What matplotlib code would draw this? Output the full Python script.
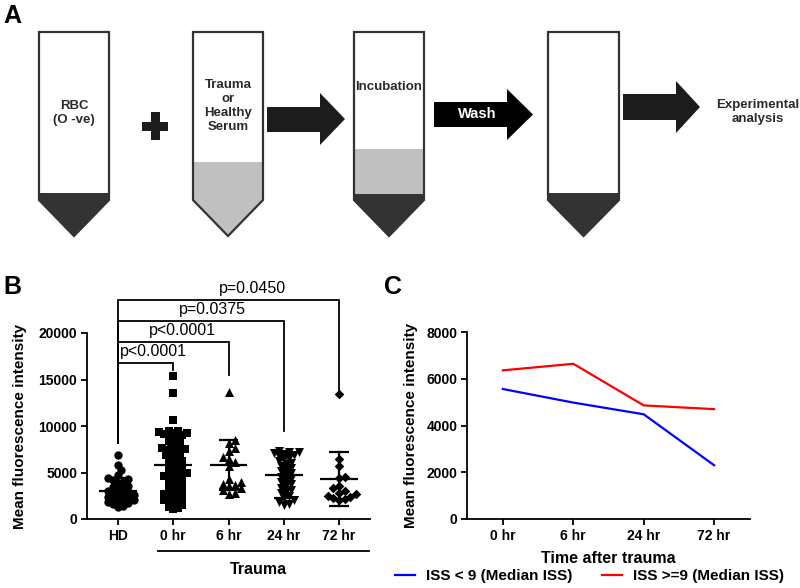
import numpy as np
import matplotlib
matplotlib.use('Agg')
import matplotlib.pyplot as plt
from matplotlib.patches import Polygon, Rectangle

plt.rcParams['font.family'] = ['Liberation Sans', 'DejaVu Sans']

# ---------------- data ----------------
b_groups = ['HD', '0 hr', '6 hr', '24 hr', '72 hr']
hd_vals = [6850, 5800, 5250, 4750, 4400, 4250, 4150, 4000, 3850, 3600, 3450, 3300,
           3150, 3050, 2950, 2800, 2700, 2600, 2500, 2400, 2300, 2200, 2100, 2000,
           1900, 1800, 1700, 1600, 1450, 1250]
h0_vals = [15400, 13600, 10600, 9480, 9410, 9350, 9300, 9260, 9120, 9050, 8970, 8880,
           8650, 8420, 8370, 8050, 7920, 7750, 7640, 7560, 7500, 7380, 7310, 7150, 6980,
           6840, 6720, 6460, 6270, 6190, 5980, 5840, 5700, 5570, 5420, 5280, 5130, 4990,
           4920, 4810, 4680, 4610, 4530, 4390, 4240, 4120, 3980, 3870, 3650, 3520, 3410,
           3290, 3140, 2980, 2870, 2690, 2580, 2470, 2330, 2210, 2090, 2010, 1880, 1720,
           1630, 1480, 1320, 1180, 1090]
h6_vals = [13700, 8500, 8200, 7600, 7300, 6700, 6400, 6100, 5700, 4300, 4000, 3800,
           3700, 3500, 3300, 3100, 2800, 2700]
h24_vals = [7300, 7250, 7200, 7100, 7000, 6900, 6750, 6600, 6400, 6200, 6050, 5900,
            5700, 5500, 5300, 5150, 4950, 4750, 4550, 4350, 4150, 3950, 3750, 3550,
            3350, 3150, 2950, 2750, 2450, 2250, 2050, 1800, 1600, 1550]
h72_vals = [13400, 6400, 5700, 4500, 4400, 3600, 3300, 3000, 2800, 2650, 2500, 2400,
            2300, 2200, 2050]
b_mean = [3050, 5850, 5800, 4700, 4300]
b_sd = [1350, 3550, 2700, 2450, 2900]

sig_labels = ['p<0.0001', 'p<0.0001', 'p=0.0375', 'p=0.0450']
sig_targets = [1, 2, 3, 4]
sig_heights = [16800, 19030, 21290, 23550]
sig_drops = [16000, 15500, 9460, 13440]
sig_start = 8170

c_times = ['0 hr', '6 hr', '24 hr', '72 hr']
iss_low = [5560, 4980, 4480, 2300]
iss_high = [6360, 6640, 4860, 4700]

# ---------------- figure ----------------
W, H = 800, 588
fig = plt.figure(figsize=(8, 5.88), dpi=100)

# ---------- Panel A (schematic) in pixel coordinates ----------
axA = fig.add_axes([0, 0, 1, 1], zorder=0)
axA.set_xlim(0, W)
axA.set_ylim(H, 0)
axA.axis('off')

DARK = '#333333'
GREY = '#c0c0c0'


def tube(x0, x1, top, body_bottom, tip, grey_from=None, dark_from=None):
    xc = (x0 + x1) / 2
    pts = [(x0, top), (x1, top), (x1, body_bottom), (xc, tip), (x0, body_bottom)]
    clip = Polygon(pts, closed=True, facecolor='white', edgecolor='none', zorder=1)
    axA.add_patch(clip)
    if grey_from is not None:
        r = Rectangle((x0 - 5, grey_from), x1 - x0 + 10, tip - grey_from + 5,
                      facecolor=GREY, edgecolor='none', zorder=2)
        axA.add_patch(r)
        r.set_clip_path(clip)
    if dark_from is not None:
        r = Rectangle((x0 - 5, dark_from), x1 - x0 + 10, tip - dark_from + 5,
                      facecolor=DARK, edgecolor='none', zorder=3)
        axA.add_patch(r)
        r.set_clip_path(clip)
    axA.add_patch(Polygon(pts, closed=True, facecolor='none', edgecolor=DARK,
                          lw=1.6, zorder=4, joinstyle='miter'))


def arrow(x0, xh, xt, yb0, yb1, yh0, yh1, color):
    ym = (yh0 + yh1) / 2
    pts = [(x0, yb0), (xh, yb0), (xh, yh0), (xt, ym), (xh, yh1), (xh, yb1), (x0, yb1)]
    axA.add_patch(Polygon(pts, closed=True, facecolor=color, edgecolor='none', zorder=3))
    return ym


tube(39, 109, 32, 200, 236, dark_from=193)
tube(193, 263, 32, 200, 236, grey_from=162)
tube(354, 424, 32, 200, 236, grey_from=149, dark_from=194)
tube(548, 619, 32, 200, 236, dark_from=193)

arrow(267, 320, 345, 107, 132, 93, 145, '#1c1c1c')
ym = arrow(434, 507, 533, 102, 127, 89, 140, '#000000')
arrow(623, 676, 700, 94, 120, 81, 133, '#1c1c1c')

# plus sign
axA.add_patch(Rectangle((142, 122), 26, 9, facecolor='#1c1c1c', edgecolor='none'))
axA.add_patch(Rectangle((151, 112), 9, 28, facecolor='#1c1c1c', edgecolor='none'))

tkw = dict(ha='center', va='center', fontsize=9.5, fontweight='bold', color='#2a2a2a',
           zorder=5, linespacing=1.25)
axA.text(74, 113, 'RBC\n(O -ve)', **tkw)
axA.text(228, 106, 'Trauma\nor\nHealthy\nSerum', **tkw)
axA.text(389, 87, 'Incubation', **tkw)
axA.text(477, 114, 'Wash', ha='center', va='center', fontsize=10.5, fontweight='bold',
         color='white', zorder=5)
axA.text(758, 112, 'Experimental\nanalysis', **tkw)

lkw = dict(fontsize=18, fontweight='bold', va='center', ha='left', color='black', zorder=5)
axA.text(3, 16, 'A', **lkw)
axA.text(3, 287, 'B', **lkw)
axA.text(384, 287, 'C', **lkw)

# ---------- Panel B ----------
bx0, bx1, by0, by1 = 87, 370, 519, 333
axB = fig.add_axes([bx0 / W, 1 - by0 / H, (bx1 - bx0) / W, (by0 - by1) / H], zorder=2)
axB.patch.set_alpha(0)
xlimB = (-0.56, 4.56)
ylimB = (0, 20000)
axB.set_xlim(*xlimB)
axB.set_ylim(*ylimB)
px_per_x = (bx1 - bx0) / (xlimB[1] - xlimB[0])
px_per_y = (by0 - by1) / (ylimB[1] - ylimB[0])


def swarm(vals, d_px, step_px):
    vals = np.asarray(vals, float)
    ypx = vals * px_per_y
    order = np.argsort(vals)
    placed = []
    offs = np.zeros(len(vals))
    for i in order:
        cands = [0.0]
        for k in range(1, 40):
            cands += [k * step_px, -k * step_px]
        for c in cands:
            ok = True
            for (px, py) in placed:
                if (px - c) ** 2 + (py - ypx[i]) ** 2 < d_px ** 2:
                    ok = False
                    break
            if ok:
                offs[i] = c
                placed.append((c, ypx[i]))
                break
    return offs / px_per_x


series = [(hd_vals, 'o', 36, 5.2), (h0_vals, 's', 38, 4.6), (h6_vals, '^', 42, 6.0),
          (h24_vals, 'v', 42, 5.0), (h72_vals, 'D', 24, 5.6)]
for gi, (vals, mk, sz, d) in enumerate(series):
    offs = swarm(vals, d, d / 2)
    axB.scatter(gi + offs, vals, marker=mk, s=sz, color='black', linewidths=0,
                zorder=3, clip_on=False)

for gi in range(len(b_groups)):
    m, s = b_mean[gi], b_sd[gi]
    axB.plot([gi - 0.34, gi + 0.34], [m, m], color='black', lw=1.6, zorder=4,
             solid_capstyle='butt')
    axB.plot([gi, gi], [m - s, m + s], color='black', lw=1.6, zorder=4)
    for yy in (m - s, m + s):
        axB.plot([gi - 0.18, gi + 0.18], [yy, yy], color='black', lw=1.6, zorder=4,
                 solid_capstyle='butt')

label_x = [0.65, 1.17, 1.71, 2.43]
for lab, tgt, hgt, drop, lx in zip(sig_labels, sig_targets, sig_heights, sig_drops, label_x):
    axB.plot([0, 0, tgt, tgt], [sig_start, hgt, hgt, drop], color='black', lw=1.3,
             clip_on=False, zorder=5, solid_joinstyle='miter')
    axB.text(lx, hgt + 400, lab, ha='center', va='bottom', fontsize=11.5,
             clip_on=False)

axB.spines['top'].set_visible(False)
axB.spines['right'].set_visible(False)
for sp in ('left', 'bottom'):
    axB.spines[sp].set_linewidth(1.3)
axB.set_yticks([0, 5000, 10000, 15000, 20000])
axB.set_xticks(range(len(b_groups)))
axB.set_xticklabels(b_groups)
axB.tick_params(axis='both', direction='out', length=4, width=1.3, labelsize=10, pad=3)
for t in axB.get_xticklabels() + axB.get_yticklabels():
    t.set_fontweight('bold')
axB.set_ylabel('Mean fluorescence intensity', fontsize=11, fontweight='bold', labelpad=8)

axA.plot([158, 369], [551, 551], color='black', lw=1.3, zorder=5)
axA.text(258, 569, 'Trauma', ha='center', va='center', fontsize=11.5, fontweight='bold')

# ---------- Panel C ----------
cx0, cx1, cy0, cy1 = 467, 750, 519, 332
axC = fig.add_axes([cx0 / W, 1 - cy0 / H, (cx1 - cx0) / W, (cy0 - cy1) / H], zorder=2)
axC.patch.set_alpha(0)
xc = np.arange(len(c_times))
l1, = axC.plot(xc, iss_low, color='#0000ff', lw=1.6, label='ISS < 9 (Median ISS)')
l2, = axC.plot(xc, iss_high, color='#ff0000', lw=1.6, label='ISS >=9 (Median ISS)')
axC.set_xlim(-0.51, 3.51)
axC.set_ylim(0, 8000)
axC.set_yticks([0, 2000, 4000, 6000, 8000])
axC.set_xticks(xc)
axC.set_xticklabels(c_times)
axC.spines['top'].set_visible(False)
axC.spines['right'].set_visible(False)
for sp in ('left', 'bottom'):
    axC.spines[sp].set_linewidth(1.3)
axC.tick_params(axis='both', direction='out', length=4, width=1.3, labelsize=10, pad=3)
for t in axC.get_xticklabels() + axC.get_yticklabels():
    t.set_fontweight('bold')
axC.set_ylabel('Mean fluorescence intensity', fontsize=11, fontweight='bold', labelpad=6)
axC.set_xlabel('Time after trauma', fontsize=11.5, fontweight='bold', labelpad=6)
fig.legend(handles=[l1, l2], loc='center left', bbox_to_anchor=(395 / W, 1 - 576 / H),
           ncol=2, frameon=False, borderpad=0, borderaxespad=0, handlelength=1.3,
           handletextpad=0.7, columnspacing=2.0, prop={'weight': 'bold', 'size': 11})

fig.savefig('out.png', dpi=100)
